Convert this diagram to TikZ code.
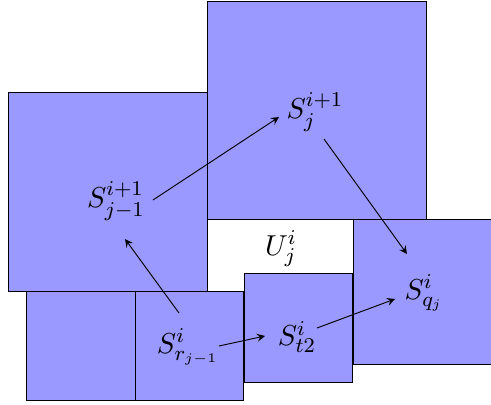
\documentclass[tikz,border=0pt]{standalone}
\usetikzlibrary{arrows}
\begin{document}
\begin{tikzpicture}[x=0.38pt,y=-0.38pt,
  sq/.style={draw=black,fill=blue!40,line width=0.35pt},
  lbl/.style={inner sep=0pt,font=\fontsize{10.8}{13}\selectfont},
  conn/.style={->,>=stealth,line width=0.35pt}]
\useasboundingbox (0,0) rectangle (491,405);
\clip (0,0) rectangle (491,405);
\draw[sq] (8,92) rectangle (207,291);
\draw[sq] (207,1) rectangle (426,219);
\draw[sq] (353,219) rectangle (495,364);
\draw[sq] (244,273) rectangle (352,382);
\draw[sq] (26,291) rectangle (135,400);
\draw[sq] (135,291) rectangle (243,400);
\node[lbl] (a) at (116,201) {$S_{j-1}^{i+1}$};
\node[lbl] (b) at (315,112) {$S_{j}^{i+1}$};
\node[lbl] (u) at (281,249) {$U_{j}^{i}$};
\node[lbl] (q) at (424,293) {$S_{q_j}^{i}$};
\node[lbl] (t) at (297,337) {$S_{t2}^{i}$};
\node[lbl] (r) at (188,347) {$S_{r_{j-1}}^{i}$};
\draw[conn] ([shift={(37,-1)}]a.center) -- ([shift={(-36,5)}]b.center);
\draw[conn] ([shift={(9,27)}]b.center) -- ([shift={(-17,-39)}]q.center);
\draw[conn] ([shift={(-9,-34)}]r.center) -- ([shift={(9,38)}]a.center);
\draw[conn] ([shift={(31,-1)}]r.center) -- ([shift={(-32,-1)}]t.center);
\draw[conn] ([shift={(20,-9)}]t.center) -- ([shift={(-29,6)}]q.center);
\end{tikzpicture}
\end{document}
